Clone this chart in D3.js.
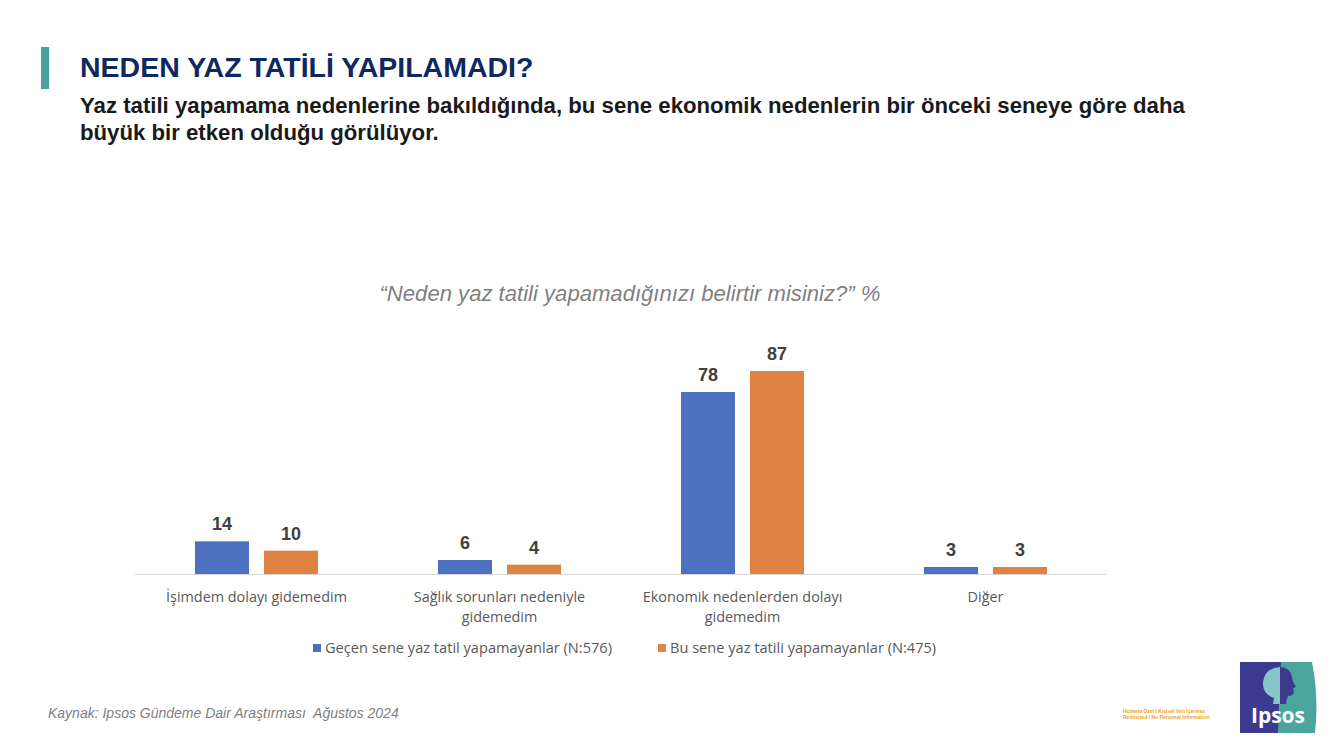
<!DOCTYPE html>
<html><head><meta charset="utf-8">
<script src="https://cdn.jsdelivr.net/npm/d3@7"></script>
<style>
html,body{margin:0;padding:0;background:#fff;}
svg{display:block;}
</style></head>
<body>
<svg id="c" width="1332" height="749"></svg>
<script>
const categories = [["İşimdem dolayı gidemedim"], ["Sağlık sorunları nedeniyle","gidemedim"], ["Ekonomik nedenlerden dolayı","gidemedim"], ["Diğer"]];
const seriesNames = ["Geçen sene yaz tatil yapamayanlar (N:576)", "Bu sene yaz tatili yapamayanlar (N:475)"];
const lastYear = [14, 6, 78, 3];
const thisYear = [10, 4, 87, 3];
const colors = ["#4e71bf", "#de8344"];

const svg = d3.select("#c");
const W = 1332, H = 749;
const ARIAL = "Liberation Sans, Arial, sans-serif";
const CAL = "Open Sans, sans-serif";

// header
svg.append("rect").attr("x",41).attr("y",47).attr("width",8).attr("height",42).attr("fill","#4ba29c");
svg.append("text").attr("x",80).attr("y",77).text("NEDEN YAZ TATİLİ YAPILAMADI?")
  .attr("font-family",ARIAL).attr("font-weight","bold").attr("font-size",28.5).attr("fill","#0e2860");
const sub = ["Yaz tatili yapamama nedenlerine bakıldığında, bu sene ekonomik nedenlerin bir önceki seneye göre daha","büyük bir etken olduğu görülüyor."];
sub.forEach((s,i)=>svg.append("text").attr("x",80).attr("y",113+i*27).text(s)
  .attr("font-family",ARIAL).attr("font-weight","bold").attr("font-size",22.2).attr("fill","#1a1a1a"));

svg.append("text").attr("x",630).attr("y",301).attr("text-anchor","middle")
  .text("“Neden yaz tatili yapamadığınızı belirtir misiniz?” %")
  .attr("font-family",ARIAL).attr("font-style","italic").attr("font-size",22.1).attr("fill","#7f7f7f");

// chart
const baseY = 574;
const x0 = d3.scaleBand().domain(d3.range(categories.length)).range([135,1107]).paddingInner(0).paddingOuter(0);
const y = d3.scaleLinear().domain([0,87]).range([baseY, 371]);
const barW = 54, gap = 15;
const data = categories.map((c,i)=>({i, vals:[lastYear[i], thisYear[i]]}));

svg.append("line").attr("x1",135).attr("x2",1107).attr("y1",baseY+0.5).attr("y2",baseY+0.5).attr("stroke","#d9d9d9").attr("stroke-width",1);

const g = svg.append("g");
data.forEach(d=>{
  const cx = x0(d.i) + x0.bandwidth()/2;
  d.vals.forEach((v,k)=>{
    const bx = k===0 ? cx - gap/2 - barW : cx + gap/2;
    g.append("rect").attr("x",bx).attr("y",y(v)).attr("width",barW).attr("height",baseY - y(v)).attr("fill",colors[k]);
    g.append("text").attr("x",bx+barW/2).attr("y",y(v)-11).attr("text-anchor","middle").text(v)
      .attr("font-family",ARIAL).attr("font-weight","bold").attr("font-size",18).attr("fill","#404040");
  });
  categories[d.i].forEach((line,j)=>{
    g.append("text").attr("x",cx).attr("y",602+j*20).attr("text-anchor","middle").text(line)
      .attr("font-family",CAL).attr("font-size",14.4).attr("fill","#595959");
  });
});

// legend
const legX = [313, 658];
seriesNames.forEach((n,k)=>{
  svg.append("rect").attr("x",legX[k]).attr("y",644).attr("width",8).attr("height",8).attr("fill",colors[k]);
  svg.append("text").attr("x",legX[k]+12).attr("y",653).text(n)
    .attr("font-family",CAL).attr("font-size",14.6).attr("fill","#595959");
});

// footer
svg.append("text").attr("x",48).attr("y",718).attr("xml:space","preserve").style("white-space","pre")
  .text("Kaynak: Ipsos Gündeme Dair Araştırması  Ağustos 2024")
  .attr("font-family",ARIAL).attr("font-style","italic").attr("font-size",14).attr("fill","#7f7f7f");
svg.append("text").attr("x",1123).attr("y",713).text("Hizmete Özel I  Kişisel Veri İçermez")
  .attr("font-family",ARIAL).attr("font-weight","bold").attr("font-size",5).attr("fill","#f0a020");
svg.append("text").attr("x",1123).attr("y",719).text("Restricted I  No Personal Information")
  .attr("font-family",ARIAL).attr("font-weight","bold").attr("font-size",5).attr("fill","#f0a020");

// logo
const defs = svg.append("defs");
defs.append("clipPath").attr("id","cl").append("rect").attr("x",1240).attr("y",660).attr("width",40).attr("height",80);
defs.append("clipPath").attr("id","cr").append("rect").attr("x",1280).attr("y",660).attr("width",40).attr("height",80);
const lg = svg.append("g");
lg.append("path").attr("d","M1240,662 L1312,662 Q1319,697 1315,733 L1240,733 Z").attr("fill","#4aa59d");
lg.append("path").attr("d","M1240,662 L1281,662 Q1279,700 1278,733 L1240,733 Z").attr("fill","#3b3a8e");
const head = "M1273,704 L1274,698 Q1262,694 1263,682 Q1265,668 1280,667 Q1290,667 1292,677 L1293,682 L1296,687 L1293,688 L1294,692 Q1293,696 1288,696 Q1286,700 1286,704 Z";
lg.append("path").attr("d",head).attr("fill","#86c6c8").attr("clip-path","url(#cl)");
lg.append("path").attr("d",head).attr("fill","#3b3a8e").attr("clip-path","url(#cr)");
lg.append("text").attr("x",1278).attr("y",723).attr("text-anchor","middle").text("Ipsos")
  .attr("font-family",CAL).attr("font-weight","bold").attr("font-size",21).attr("fill","#fff");
</script>
</body></html>
